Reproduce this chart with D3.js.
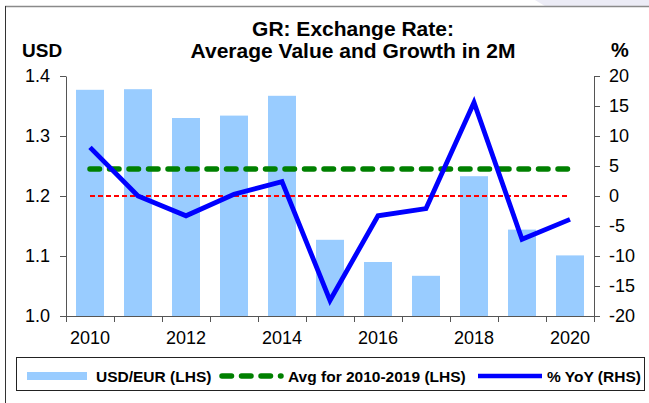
<!DOCTYPE html>
<html lang="en">
<head>
  <meta charset="UTF-8" />
  <title>GR: Exchange Rate</title>
  <script src="https://d3js.org/d3.v7.min.js"></script>
  <style>
    body {
      margin: 0;
      background: #fff;
      font-family: 'Liberation Sans', Arial, sans-serif;
    }
    svg { display: block; }
    .axis path, .axis line { stroke: #555; }
    .axis text { fill: #000; font-size: 18px; font-family: 'Liberation Sans', Arial, sans-serif; }
  </style>
</head>
<body>
  <svg id="chart" width="649" height="403"></svg>

  <script>
    // data
    const years = ["2010","2011","2012","2013","2014","2015","2016","2017","2018","2019","2020"];
    const usdEur = [1.377, 1.378, 1.330, 1.334, 1.367, 1.127, 1.090, 1.067, 1.233, 1.144, 1.101];
    const yoy = [8.1, 0.0, -3.3, 0.3, 2.4, -17.4, -3.3, -2.1, 15.6, -7.2, -3.9];
    const avgLevel = 1.245;
    const leftTicks = [1.0, 1.1, 1.2, 1.3, 1.4];
    const rightTicks = [-20, -15, -10, -5, 0, 5, 10, 15, 20];
    const yearLabels = ["2010","2012","2014","2016","2018","2020"];

    const svg = d3.select("#chart");
    const plotL = 66, plotR = 594, plotT = 76, plotB = 316;

    // frame decoration
    svg.append("path").attr("d", "M535,0 L649,0 L649,6 L545,6 Z").attr("fill", "#ececf6");
    svg.append("line").attr("x1", 5).attr("x2", 649).attr("y1", 6.5).attr("y2", 6.5)
      .attr("stroke", "#8a8a8a").attr("stroke-width", 1.5);
    svg.append("line").attr("x1", 5.5).attr("x2", 5.5).attr("y1", 6).attr("y2", 403)
      .attr("stroke", "#333").attr("stroke-width", 1);

    const x = d3.scaleBand().domain(years).range([plotL, plotR])
      .paddingInner(20 / 48).paddingOuter(10 / 48);
    const xEdge = d3.scaleLinear().domain([0, years.length]).range([plotL, plotR]);
    const yL = d3.scaleLinear().domain([1.0, 1.4]).range([plotB, plotT]);
    const yR = d3.scaleLinear().domain([-20, 20]).range([plotB, plotT]);
    const cx = d => x(d) + x.bandwidth() / 2;

    // bars
    svg.append("g").selectAll("rect")
      .data(years).enter().append("rect")
      .attr("x", d => x(d))
      .attr("width", x.bandwidth())
      .attr("y", (d, i) => yL(usdEur[i]))
      .attr("height", (d, i) => plotB - yL(usdEur[i]))
      .attr("fill", "#99ccff");

    // zero line (RHS)
    svg.append("line")
      .attr("x1", cx(years[0])).attr("x2", cx(years[years.length - 1]) - 3)
      .attr("y1", yR(0)).attr("y2", yR(0))
      .attr("stroke", "#ff0000").attr("stroke-width", 2)
      .attr("stroke-dasharray", "5,3");

    // average line
    svg.append("line")
      .attr("x1", cx(years[0])).attr("x2", cx(years[years.length - 1]))
      .attr("y1", yL(avgLevel)).attr("y2", yL(avgLevel))
      .attr("stroke", "#008000").attr("stroke-width", 5.5)
      .attr("stroke-linecap", "round")
      .attr("stroke-dasharray", "9.5,10");

    // yoy line
    const line = d3.line().x((d, i) => cx(years[i])).y(d => yR(d));
    svg.append("path").datum(yoy)
      .attr("d", line)
      .attr("fill", "none")
      .attr("stroke", "#0000ff")
      .attr("stroke-width", 4.8)
      .attr("stroke-linejoin", "miter");

    // axes
    const gx = svg.append("g").attr("class", "axis").attr("transform", `translate(0,${plotB})`)
      .call(d3.axisBottom(xEdge).tickValues(d3.range(years.length + 1)).tickFormat("").tickSize(6).tickSizeOuter(0));
    gx.select(".domain").attr("d", `M${plotL},0.5H${plotR + 6}`);

    svg.append("g").attr("class", "axis")
      .selectAll("text").data(yearLabels).enter().append("text")
      .attr("x", d => cx(d)).attr("y", 343.5)
      .attr("text-anchor", "middle")
      .text(d => d);

    svg.append("g").attr("class", "axis").attr("transform", `translate(${plotL},0)`)
      .call(d3.axisLeft(yL).tickValues(leftTicks).tickFormat(d3.format(".1f"))
        .tickSize(6).tickPadding(10).tickSizeOuter(0));

    const gr = svg.append("g").attr("class", "axis").attr("transform", `translate(${plotR},0)`)
      .call(d3.axisRight(yR).tickValues(rightTicks).tickFormat(d => d)
        .tickSize(6).tickPadding(9).tickSizeOuter(0));
    gr.selectAll("text").text(d => d < 0 ? "-" + Math.abs(d) : d);

    // titles
    const title = svg.append("text").attr("text-anchor", "middle")
      .attr("font-weight", "bold").attr("font-size", 21);
    title.append("tspan").attr("x", 353).attr("y", 36).text("GR: Exchange Rate:");
    title.append("tspan").attr("x", 353).attr("y", 57.5).text("Average Value and Growth in 2M");

    svg.append("text").attr("x", 22).attr("y", 57).attr("font-weight", "bold")
      .attr("font-size", 19).text("USD");
    svg.append("text").attr("x", 611).attr("y", 57).attr("font-weight", "bold")
      .attr("font-size", 20).text("%");

    // legend
    const lg = svg.append("g");
    lg.append("rect").attr("x", 16.5).attr("y", 357.5).attr("width", 628).attr("height", 33)
      .attr("fill", "#fff").attr("stroke", "#222").attr("stroke-width", 1);
    const ly = 376;
    lg.append("rect").attr("x", 27).attr("y", ly - 4).attr("width", 60).attr("height", 8)
      .attr("fill", "#99ccff");
    lg.append("line").attr("x1", 222).attr("x2", 281).attr("y1", ly).attr("y2", ly)
      .attr("stroke", "#008000").attr("stroke-width", 5.5)
      .attr("stroke-linecap", "round").attr("stroke-dasharray", "9.5,10");
    lg.append("line").attr("x1", 478).attr("x2", 542).attr("y1", ly).attr("y2", ly)
      .attr("stroke", "#0000ff").attr("stroke-width", 4.5);
    const legendText = [
      { x: 96, t: "USD/EUR (LHS)" },
      { x: 288, t: "Avg for 2010-2019 (LHS)" },
      { x: 547, t: "% YoY (RHS)" }
    ];
    lg.selectAll("text.lt").data(legendText).enter().append("text")
      .attr("class", "lt")
      .attr("x", d => d.x).attr("y", ly + 5.5)
      .attr("font-weight", "bold").attr("font-size", 15.5)
      .text(d => d.t);
  </script>
</body>
</html>
